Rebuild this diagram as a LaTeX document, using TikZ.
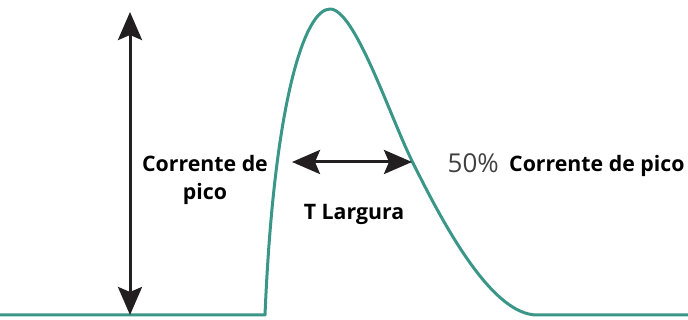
\documentclass[tikz,border=0pt]{standalone}
\usepackage{fontspec}
\setmainfont{Open Sans}
\usetikzlibrary{calc,arrows.meta,positioning}

\definecolor{pulso}{RGB}{58,150,135}
\definecolor{seta}{RGB}{35,31,32}
\definecolor{cinza}{RGB}{64,64,64}

\tikzset{
    curva/.style={line width=3pt, color=pulso, line join=round},
    dupla/.style={{Stealth[length=28pt,width=24pt,inset=5pt]}-{Stealth[length=28pt,width=24pt,inset=5pt]}, line width=3pt, color=seta},
    rotulo/.style={font=\bfseries\fontsize{21.3}{26}\selectfont, inner sep=0pt, anchor=base, align=center},
}

\begin{document}
\begin{tikzpicture}[x=1pt,y=1pt]
        %área de saída
        \useasboundingbox (0,0) rectangle (688,320);

        % pontos da curva
        \coordinate (ini) at (0,5);
        \coordinate (sobe) at (265,5);
        \coordinate (pico) at (330,311);
        \coordinate (meio) at (413,157);
        \coordinate (desce) at (537,5);
        \coordinate (fim) at (688,5);

        % pulso
        \draw[curva] (ini) -- (sobe)
            .. controls (274,220) and (305,311) .. (pico)
            .. controls (355,311) and (390,203) .. (meio)
            .. controls (440,103) and (490,5) .. (desce) -- (fim);

        % setas
        \coordinate (base) at (130,5);
        \coordinate (topo) at (130,308);
        \coordinate (esq) at (292,158);
        \coordinate (dir) at (412,158);
        \draw[dupla] (base) -- (topo);
        \draw[dupla] (esq) -- (dir);

        % textos
        \node[rotulo] (corrente) at (205,148) {Corrente de};
        \node[rotulo] (pico1) at (205,120) {pico};
        \node[rotulo] (largura) at (354,100) {T Largura};
        \node[rotulo, anchor=base west] (metade) at (509,148) {Corrente de pico};
        \node[font=\fontsize{26}{30}\selectfont, text=cinza, inner sep=0pt, anchor=base east] (cinquenta) at (499,147) {50\%};

    \end{tikzpicture}
\end{document}
